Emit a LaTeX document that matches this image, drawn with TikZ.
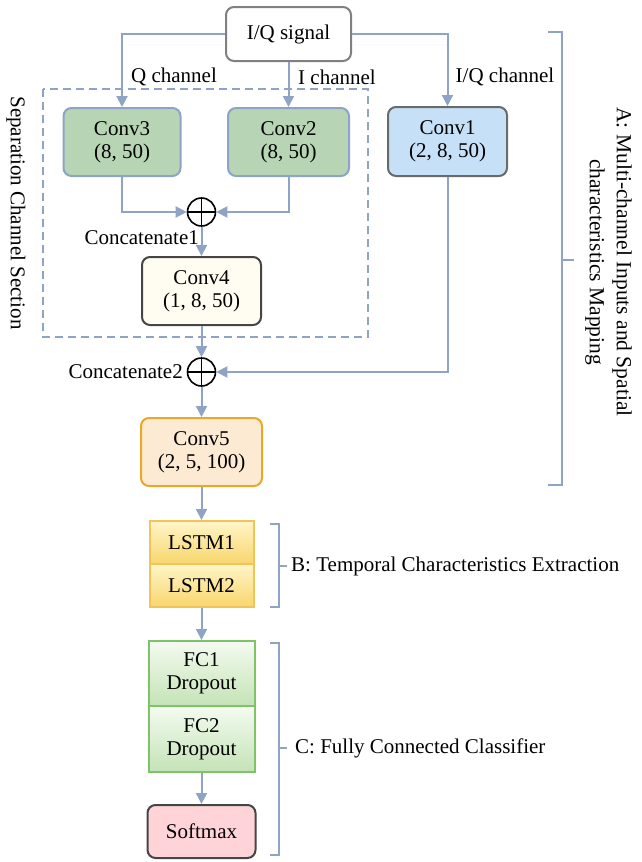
\documentclass[tikz,border=0pt]{standalone}
\usepackage{fontspec}
\setmainfont{Liberation Serif}
\usetikzlibrary{arrows.meta}
\definecolor{lnc}{HTML}{8FA3C6}
\definecolor{gfill}{HTML}{B7D5B4}
\definecolor{bfill}{HTML}{C6E0F8}
\definecolor{cfill}{HTML}{FFFDF2}
\definecolor{ofill}{HTML}{FDEAD2}
\definecolor{odraw}{HTML}{E8A82A}
\definecolor{ytop}{HTML}{FFF5C8}
\definecolor{ybot}{HTML}{F8D66C}
\definecolor{ydraw}{HTML}{F0C45A}
\definecolor{ftop}{HTML}{F4FBF0}
\definecolor{fbot}{HTML}{C4E3B6}
\definecolor{fdraw}{HTML}{7EC26A}
\definecolor{pfill}{HTML}{FFD4D8}
\definecolor{dk}{HTML}{454545}
\begin{document}
\begin{tikzpicture}[x=1pt,y=-1pt,
  font=\fontsize{21}{23}\selectfont,
  box/.style={draw, line width=2pt, rounded corners=8pt, align=center, inner sep=0pt},
  sqbox/.style={draw, line width=2pt, align=center, inner sep=0pt},
  conn/.style={draw=lnc, line width=2pt, -{Triangle[width=11pt,length=11pt]}},
  plus/.style={circle, draw, line width=1.6pt, minimum size=28pt, inner sep=0pt,
    path picture={\draw[line width=1.6pt] (path picture bounding box.north) -- (path picture bounding box.south)
      (path picture bounding box.west) -- (path picture bounding box.east);}},
  brk/.style={draw=lnc, line width=1.6pt}
]
\useasboundingbox (0,0) rectangle (641,862);

% dashed section
\draw[lnc, line width=1.6pt, dash pattern=on 8pt off 5pt] (43,89) rectangle (368,337);
\node[rotate=-90] (sep) at (16,213) {Separation Channel Section};

\node[box, draw=gray, fill=white, minimum width=125pt, minimum height=54pt] (iq) at (288.5,34) {I/Q signal};
\node[box, draw=lnc, fill=gfill, minimum width=117pt, minimum height=68pt] (conv3) at (122,142) {Conv3\\(8, 50)};
\node[box, draw=lnc, fill=gfill, minimum width=121pt, minimum height=68pt] (conv2) at (288.5,142) {Conv2\\(8, 50)};
\node[box, draw=dk!80, fill=bfill, minimum width=119pt, minimum height=69pt] (conv1) at (447.5,141.5) {Conv1\\(2, 8, 50)};
\node[plus] (c1) at (201.5,212) {};
\node[box, draw=dk, fill=cfill, minimum width=119pt, minimum height=68pt] (conv4) at (201.5,291) {Conv4\\(1, 8, 50)};
\node[plus] (c2) at (201.5,372) {};
\node[box, draw=odraw, fill=ofill, minimum width=121pt, minimum height=68pt] (conv5) at (201.5,452) {Conv5\\(2, 5, 100)};

\node[sqbox, draw=ydraw, top color=ytop, bottom color=ybot, minimum width=104pt, minimum height=43pt] (lstm1) at (201.5,542.5) {LSTM1};
\node[sqbox, draw=ydraw, top color=ytop, bottom color=ybot, minimum width=104pt, minimum height=43pt] (lstm2) at (201.5,585.5) {LSTM2};
\node[sqbox, draw=fdraw, top color=ftop, bottom color=fbot, minimum width=106pt, minimum height=65pt] (fc1) at (201.5,673.5) {FC1\\Dropout};
\node[sqbox, draw=fdraw, top color=ftop, bottom color=fbot, minimum width=106pt, minimum height=66pt] (fc2) at (201.5,739) {FC2\\Dropout};
\node[box, draw=dk, fill=pfill, minimum width=108pt, minimum height=53pt] (soft) at (201.5,831.5) {Softmax};

% labels
\node (ql) at (174,77) {Q channel};
\node (il) at (337,77) {I channel};
\node (iql) at (505,77) {I/Q channel};
\node[anchor=east, inner sep=0pt] (cat1) at (199,238) {Concatenate1};
\node[anchor=east, inner sep=0pt] (cat2) at (183,372) {Concatenate2};

% connectors
\draw[conn] (iq.west) -| (conv3.north);
\draw[conn] (iq.south) -- (conv2.north);
\draw[conn] (iq.east) -| (conv1.north);
\draw[conn] (conv3.south) |- (c1.west);
\draw[conn] (conv2.south) |- (c1.east);
\draw[conn] (c1.south) -- (conv4.north);
\draw[conn] (conv4.south) -- (c2.north);
\draw[conn] (conv1.south) |- (c2.east);
\draw[conn] (c2.south) -- (conv5.north);
\draw[conn] (conv5.south) -- (lstm1.north);
\draw[conn] (lstm2.south) -- (fc1.north);
\draw[conn] (fc2.south) -- (soft.north);

% brackets
\draw[brk] (548,32) -- (562,32) -- (562,485) -- (548,485) (562,260) -- (574,260);
\node[rotate=-90, align=center] (alab) at (608.5,262) {\fontsize{21.5}{23}\selectfont A: Multi-channel Inputs and Spatial\\[4pt]\fontsize{21.5}{23}\selectfont characteristics Mapping};
\draw[brk] (270,524) -- (279,524) -- (279,607) -- (270,607) (279,566) -- (287,566);
\node[anchor=west, inner sep=0pt] (blab) at (291,566) {B: Temporal Characteristics Extraction};
\draw[brk] (270,643) -- (279,643) -- (279,855) -- (270,855) (279,748) -- (287,748);
\node[anchor=west, inner sep=0pt] (clab) at (295,748) {C: Fully Connected Classifier};
\end{tikzpicture}
\end{document}
